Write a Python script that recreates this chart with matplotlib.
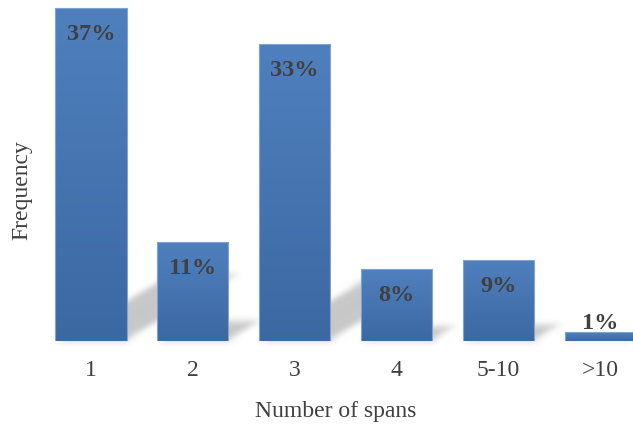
import numpy as np
import matplotlib
matplotlib.use("Agg")
import matplotlib.pyplot as plt
from matplotlib.patches import Polygon, Rectangle
from matplotlib.colors import LinearSegmentedColormap

# Distribution of the number of spans
categories = ["1", "2", "3", "4", "5-10", ">10"]
shares = [37, 11, 33, 8, 9, 1]
value_labels = ["37%", "11%", "33%", "8%", "9%", "1%"]

plt.rcParams["font.family"] = ["Liberation Serif", "DejaVu Serif"]
TEXT = "#404040"

W, H = 633, 431
fig = plt.figure(figsize=(W / 100, H / 100), dpi=100)
ax = fig.add_axes([40 / W, 89 / H, 593 / W, 342 / H])
ax.set_xlim(-0.5, 5.32)
ax.set_ylim(0, 38)
ax.set_facecolor("none")

x = np.arange(len(categories))
bar_w = 0.7

# pixel scale of the data axes
px_x = 593 / (5.32 + 0.5)
px_y = 342 / 38


def gaussian_blur(sigma):
    r = int(3 * sigma)
    k = np.exp(-0.5 * (np.arange(-r, r + 1) / sigma) ** 2)
    k /= k.sum()

    def _filter(img, dpi):
        pad = r
        a = np.pad(img, ((pad, pad), (pad, pad), (0, 0)), mode="constant")
        for axis in (0, 1):
            a = np.apply_along_axis(lambda m: np.convolve(m, k, mode="same"), axis, a)
        return a, -pad, -pad

    return _filter


# soft perspective shadows leaning to the upper right
shadow_k = 0.2
shadow_lean = 1.7
for xi, v in zip(x, shares):
    h_px = v * px_y * shadow_k
    dx = shadow_lean * h_px / px_x
    dy = h_px / px_y
    x0, x1 = xi - bar_w / 2, xi + bar_w / 2
    poly = Polygon([(x0, 0), (x1, 0), (x1 + dx, dy), (x0 + dx, dy)],
                   closed=True, facecolor="black", edgecolor="none",
                   alpha=0.22, zorder=1)
    poly.set_agg_filter(gaussian_blur(3.5))
    ax.add_patch(poly)

# bars with a vertical gradient
grad = LinearSegmentedColormap.from_list("bar", ["#3C68A2", "#4F80BE"])
g = np.linspace(0, 1, 256).reshape(-1, 1)
for xi, v in zip(x, shares):
    x0, x1 = xi - bar_w / 2, xi + bar_w / 2
    im = ax.imshow(g, cmap=grad, origin="lower", aspect="auto",
                   extent=(x0, x1, 0, v), zorder=2, interpolation="bilinear")
    rect = Rectangle((x0, 0), bar_w, v, facecolor="none",
                     edgecolor="#7FA3D3", linewidth=0.8, zorder=3)
    ax.add_patch(rect)
    im.set_clip_path(rect)

# value labels: inside the top of tall bars, above short ones
for xi, v, lab in zip(x, shares, value_labels):
    if v >= 5:
        ax.annotate(lab, (xi, v), xytext=(0, -11), textcoords="offset points",
                    ha="center", va="top", fontsize=17.5, fontweight="bold",
                    color=TEXT, zorder=4)
    else:
        ax.annotate(lab, (xi, v), xytext=(0, -1), textcoords="offset points",
                    ha="center", va="bottom", fontsize=17.5, fontweight="bold",
                    color=TEXT, zorder=4)

ax.set_xticks(x)
ax.set_xticklabels(categories, fontsize=17, color=TEXT)
ax.tick_params(axis="x", length=0, pad=13)
ax.set_yticks([])
for s in ax.spines.values():
    s.set_visible(False)

ax.set_xlabel("Number of spans", fontsize=17, color=TEXT)
ax.xaxis.set_label_coords((336 - 40) / 593, (342 - 412) / 342)
ax.set_ylabel("Frequency", fontsize=17, color=TEXT)
ax.yaxis.set_label_coords((22 - 40) / 593, (342 - 190) / 342)
ax.xaxis.label.set_va("center")
ax.yaxis.label.set_va("center")

fig.savefig("out.png", dpi=100)
